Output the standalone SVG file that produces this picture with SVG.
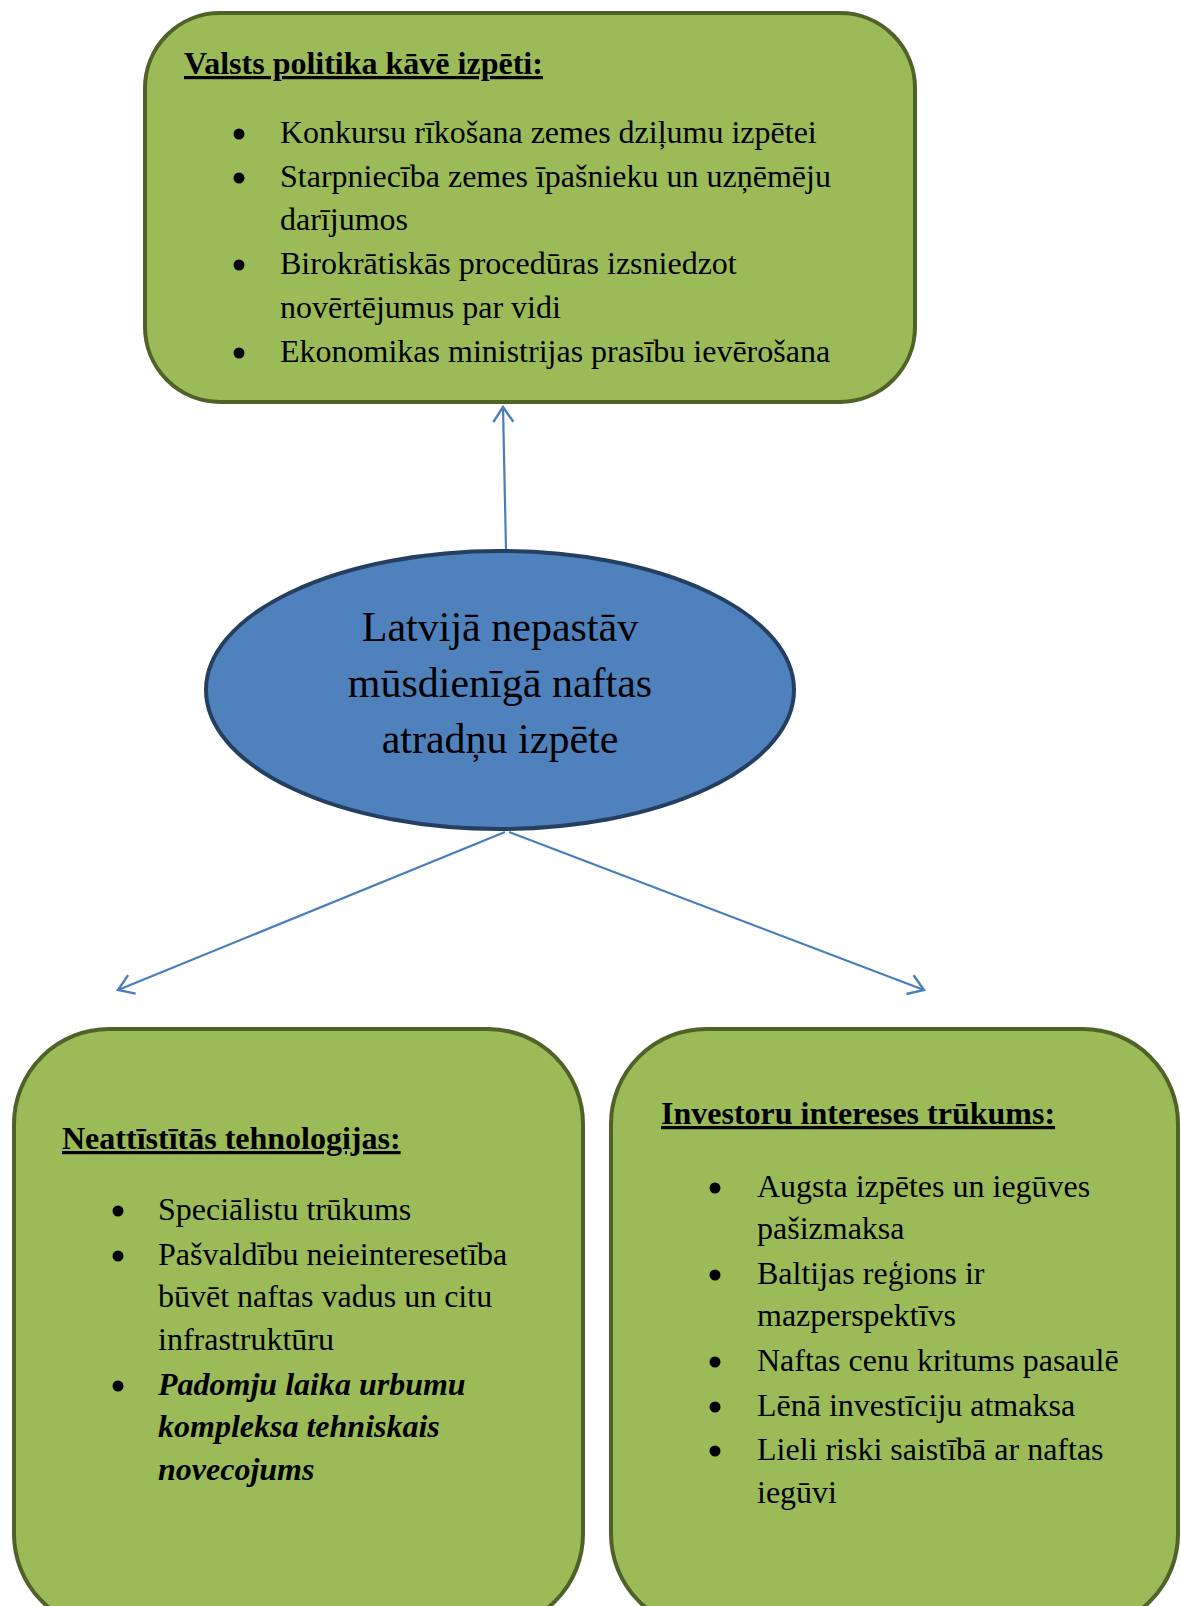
<svg xmlns="http://www.w3.org/2000/svg" width="1181" height="1606" viewBox="0 0 1181 1606">
<style>
.box{fill:#9BBB59;stroke:#4F6228;stroke-width:4}
.ell{fill:#4F81BD;stroke:#243F60;stroke-width:4}
.t{font-family:"Liberation Serif","Times New Roman",serif;font-size:32px;fill:#000}
.h{font-weight:bold;text-decoration:underline}
.bi{font-weight:bold;font-style:italic}
.c{font-size:42px;text-anchor:middle}
.con{stroke:#4A7EBB;stroke-width:2.2;fill:none}
.b{fill:#000}
</style>
<defs>
<marker id="arr" viewBox="0 0 20 24" refX="18" refY="12" markerWidth="20" markerHeight="24" markerUnits="userSpaceOnUse" orient="auto">
<path d="M3,2 L18,12 L3,22" fill="none" stroke="#4A7EBB" stroke-width="2.4"/>
</marker>
<circle id="dot" r="5.5"/>
</defs>
<g id="connectors">
<line class="con" x1="506" y1="550" x2="503" y2="407" marker-end="url(#arr)"/>
<line class="con" x1="505" y1="832" x2="118" y2="990" marker-end="url(#arr)"/>
<line class="con" x1="509" y1="832" x2="924" y2="990" marker-end="url(#arr)"/>
</g>
<g id="top">
<rect class="box" x="145" y="13" width="770" height="389" rx="75"/>
<text class="t h" x="184" y="74">Valsts politika kāvē izpēti:</text>
<g class="b">
<use href="#dot" x="239" y="134"/>
<use href="#dot" x="239" y="178"/>
<use href="#dot" x="239" y="265"/>
<use href="#dot" x="239" y="353"/>
</g>
<g class="t">
<text x="280" y="143">Konkursu rīkošana zemes dziļumu izpētei</text>
<text x="280" y="187">Starpniecība zemes īpašnieku un uzņēmēju</text>
<text x="280" y="230">darījumos</text>
<text x="280" y="274">Birokrātiskās procedūras izsniedzot</text>
<text x="280" y="318">novērtējumus par vidi</text>
<text x="280" y="362">Ekonomikas ministrijas prasību ievērošana</text>
</g>
</g>
<g id="center">
<ellipse class="ell" cx="500" cy="690" rx="294" ry="139"/>
<text class="t c" x="500" y="641">Latvijā nepastāv</text>
<text class="t c" x="500" y="697">mūsdienīgā naftas</text>
<text class="t c" x="500" y="753">atradņu izpēte</text>
</g>
<g id="left">
<rect class="box" x="14" y="1029" width="569" height="600" rx="95"/>
<text class="t h" x="62" y="1149">Neattīstītās tehnologijas:</text>
<g class="b">
<use href="#dot" x="118" y="1211"/>
<use href="#dot" x="118" y="1256"/>
<use href="#dot" x="118" y="1386"/>
</g>
<g class="t">
<text x="158" y="1220">Speciālistu trūkums</text>
<text x="158" y="1265">Pašvaldību neieinteresetība</text>
<text x="158" y="1307">būvēt naftas vadus un citu</text>
<text x="158" y="1350">infrastruktūru</text>
<text class="bi" x="158" y="1395">Padomju laika urbumu</text>
<text class="bi" x="158" y="1437">kompleksa tehniskais</text>
<text class="bi" x="158" y="1480">novecojums</text>
</g>
</g>
<g id="right">
<rect class="box" x="611" y="1029" width="567" height="600" rx="95"/>
<text class="t h" x="661" y="1124">Investoru intereses trūkums:</text>
<g class="b">
<use href="#dot" x="715" y="1188"/>
<use href="#dot" x="715" y="1275"/>
<use href="#dot" x="715" y="1362"/>
<use href="#dot" x="715" y="1407"/>
<use href="#dot" x="715" y="1451"/>
</g>
<g class="t">
<text x="757" y="1197">Augsta izpētes un iegūves</text>
<text x="757" y="1239">pašizmaksa</text>
<text x="757" y="1284">Baltijas reģions ir</text>
<text x="757" y="1326">mazperspektīvs</text>
<text x="757" y="1371">Naftas cenu kritums pasaulē</text>
<text x="757" y="1416">Lēnā investīciju atmaksa</text>
<text x="757" y="1460">Lieli riski saistībā ar naftas</text>
<text x="757" y="1503">iegūvi</text>
</g>
</g>
</svg>
